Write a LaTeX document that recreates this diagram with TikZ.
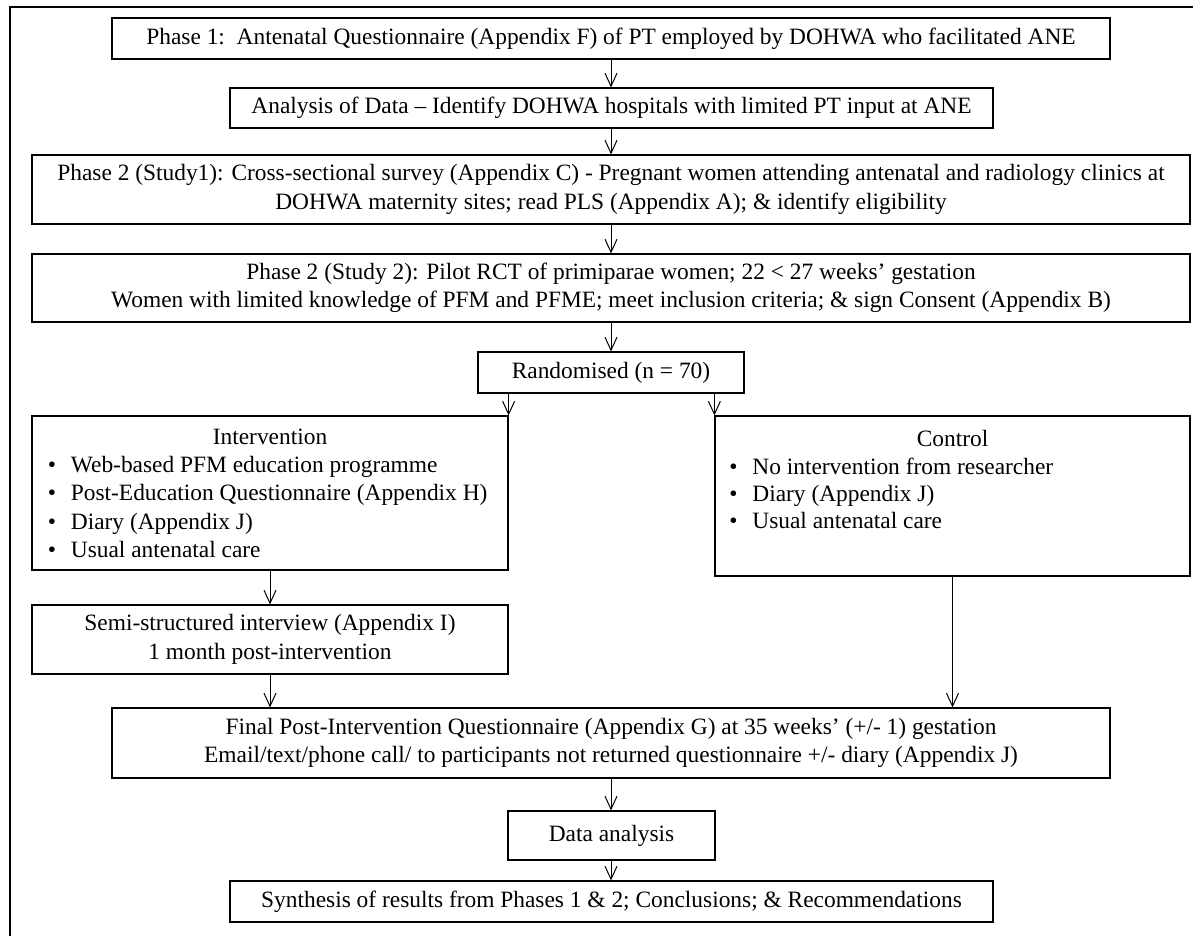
\documentclass[tikz,border=0pt]{standalone}
\usepackage{fontspec}
\setmainfont{Liberation Serif}
\usetikzlibrary{arrows.meta}
\newcommand\flowfont{\fontsize{11.7}{14.2}\selectfont}
\newcommand\bul{\makebox[11.5pt][l]{\textbullet}}
\begin{document}
\begin{tikzpicture}[x=0.5pt,y=-0.5pt,
  box/.style={draw, line width=0.6pt, inner sep=0pt, align=center, font=\flowfont},
  sz/.style 2 args={minimum width=#1*0.5pt, minimum height=#2*0.5pt},
  txt/.style={inner sep=0pt, font=\flowfont},
  arr/.style={-{Straight Barb[length=6.5pt,width=6pt]}, line width=0.5pt},
  frame/.style={line width=1pt}]
\useasboundingbox (0,0) rectangle (1193,936);

% page frame
\coordinate (fbl) at (10,936);
\coordinate (ftl) at (10,7);
\coordinate (ftr) at (1193,7);
\draw[frame] (fbl) -- (ftl) -- (ftr);

% main column
\node[box, sz={998}{41}] (b1) at (611,38.5)
  {Phase 1:\ \ Antenatal Questionnaire (Appendix F) of PT employed by DOHWA who facilitated ANE};
\node[box, sz={763}{40}] (b2) at (611.5,108)
  {Analysis of Data – Identify DOHWA hospitals with limited PT input at ANE};
\node[box, sz={1158}{69}] (b3) at (611,189.5)
  {Phase 2 (Study1): Cross-sectional survey (Appendix C) - Pregnant women attending antenatal and radiology clinics at\\
   DOHWA maternity sites; read PLS (Appendix A); \& identify eligibility};
\node[box, sz={1158}{68}] (b4) at (611,288)
  {Phase 2 (Study 2): Pilot RCT of primiparae women; 22 < 27 weeks’ gestation\\
   Women with limited knowledge of PFM and PFME; meet inclusion criteria; \& sign Consent (Appendix B)};
\node[box, sz={266}{41}] (rand) at (611,372.5) {Randomised (n = 70)};

% intervention arm
\node[box, sz={476}{154}] (int) at (270,493) {};
\node[txt, anchor=base] (intT) at (270,444) {Intervention};
\node[txt, anchor=base west] (int1) at (47.5,472) {\bul Web-based PFM education programme};
\node[txt, anchor=base west] (int2) at (47.5,500.5) {\bul Post-Education Questionnaire (Appendix H)};
\node[txt, anchor=base west] (int3) at (47.5,529) {\bul Diary (Appendix J)};
\node[txt, anchor=base west] (int4) at (47.5,557) {\bul Usual antenatal care};

% control arm
\node[box, sz={475}{160}] (ctl) at (952.5,496) {};
\node[txt, anchor=base] (ctlT) at (952.5,446) {Control};
\node[txt, anchor=base west] (ctl1) at (729,474) {\bul No intervention from researcher};
\node[txt, anchor=base west] (ctl2) at (729,501.5) {\bul Diary (Appendix J)};
\node[txt, anchor=base west] (ctl3) at (729,528.5) {\bul Usual antenatal care};

\node[box, sz={476}{69}] (semi) at (270,639.5)
  {Semi-structured interview (Appendix I)\\1 month post-intervention};

% follow-up and analysis
\node[box, sz={998}{70}] (fin) at (611,743)
  {Final Post-Intervention Questionnaire (Appendix G) at 35 weeks’ (+/- 1) gestation\\
   Email/text/phone call/ to participants not returned questionnaire +/- diary (Appendix J)};
\node[box, sz={207}{49}] (data) at (611.5,835.5) {Data analysis};
\node[box, sz={763}{41}] (syn) at (611.5,901.5)
  {Synthesis of results from Phases 1 \& 2; Conclusions; \& Recommendations};

% connectors
\draw[arr] (b1.south) -- (b1.south |- b2.north);
\draw[arr] (b1.south |- b2.south) -- (b1.south |- b3.north);
\draw[arr] (b3.south) -- (b3.south |- b4.north);
\draw[arr] (b4.south) -- (b4.south |- rand.north);
\draw[arr] (rand.south -| int.north east) -- (int.north east);
\draw[arr] (rand.south -| ctl.north west) -- (ctl.north west);
\draw[arr] (int.south) -- (semi.north);
\draw[arr] (semi.south) -- (semi.south |- fin.north);
\draw[arr] (ctl.south) -- (ctl.south |- fin.north);
\draw[arr] (fin.south) -- (fin.south |- data.north);
\draw[arr] (fin.south |- data.south) -- (fin.south |- syn.north);
\end{tikzpicture}
\end{document}
